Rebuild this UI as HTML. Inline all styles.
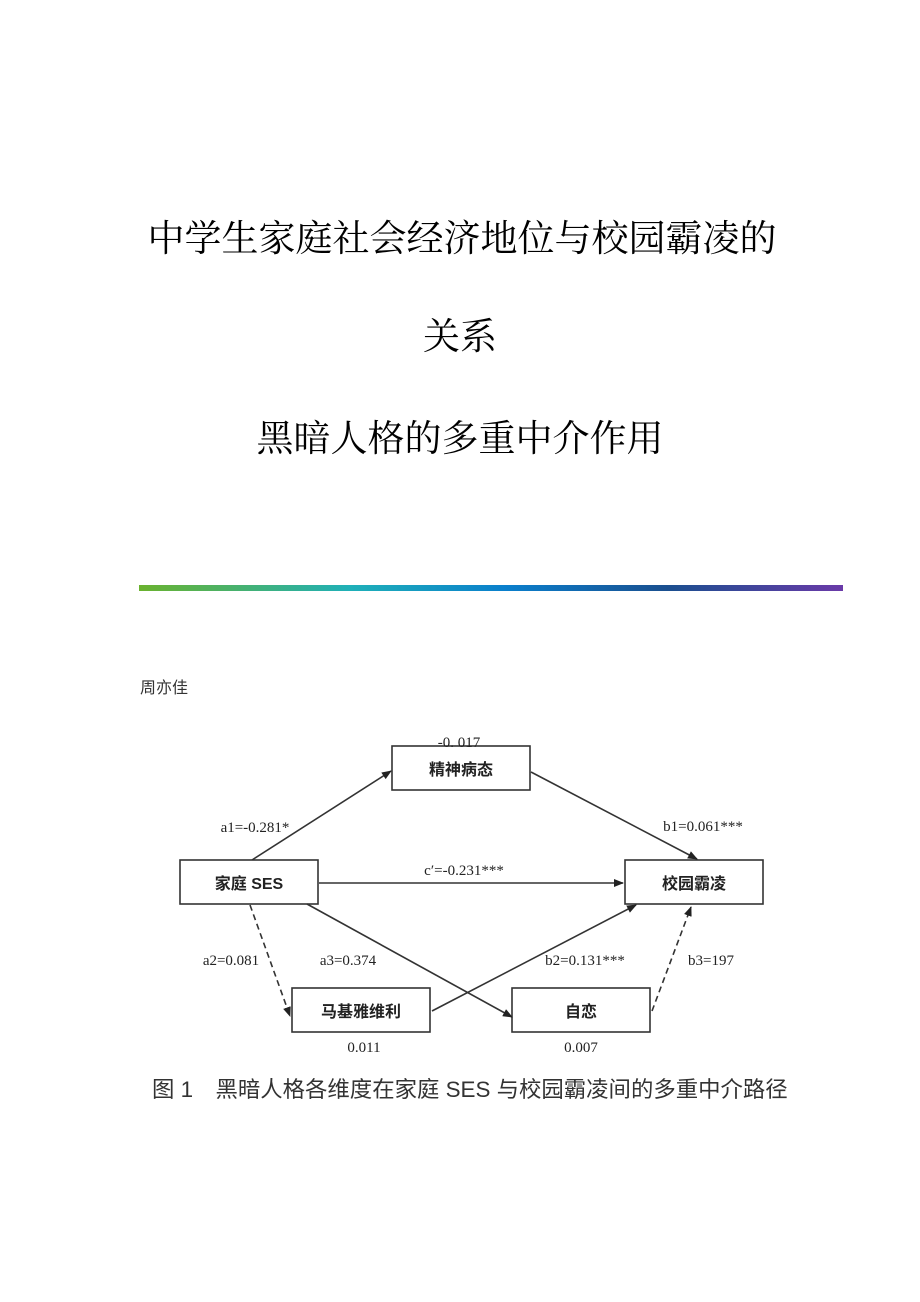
<!DOCTYPE html>
<html><head><meta charset="utf-8"><style>
html,body{margin:0;padding:0;background:#fff;width:920px;height:1302px;overflow:hidden;position:relative}
.t{position:absolute;left:0;width:920px;text-align:center;font-family:"Liberation Serif","Noto Serif CJK SC",serif;font-size:37px;color:#000;line-height:44px}
</style></head><body>
<div class="t" style="top:218px;left:2px">中学生家庭社会经济地位与校园霸凌的</div>
<div class="t" style="top:316px">关系</div>
<div class="t" style="top:418px">黑暗人格的多重中介作用</div>
<div style="position:absolute;left:139px;top:585px;width:704px;height:6px;background:linear-gradient(90deg,#6ab22e 0%,#1fb0b8 30%,#0a7fcc 52%,#1a4f8f 75%,#6a3aa8 100%)"></div>
<div style="position:absolute;left:140px;top:674px;font-family:'Liberation Sans','Noto Sans CJK SC',sans-serif;font-size:16px;color:#333">周亦佳</div>
<svg width="920" height="1302" style="position:absolute;left:0;top:0" font-family="Liberation Serif, Noto Sans CJK SC, serif">
<defs><marker id="a" markerWidth="10" markerHeight="8" refX="9" refY="4" orient="auto" markerUnits="userSpaceOnUse"><path d="M0,0L10,4L0,8z" fill="#222"/></marker></defs>
<g fill="none" stroke="#333" stroke-width="1.6">
<rect x="392" y="746" width="138" height="44"/>
<rect x="180" y="860" width="138" height="44"/>
<rect x="625" y="860" width="138" height="44"/>
<rect x="292" y="988" width="138" height="44"/>
<rect x="512" y="988" width="138" height="44"/>
<line x1="252" y1="860" x2="391" y2="771" marker-end="url(#a)"/>
<line x1="531" y1="772" x2="697" y2="859" marker-end="url(#a)"/>
<line x1="319" y1="883" x2="623" y2="883" marker-end="url(#a)"/>
<line x1="307" y1="904" x2="512" y2="1017" marker-end="url(#a)"/>
<line x1="432" y1="1011" x2="636" y2="905" marker-end="url(#a)"/>
<line x1="250" y1="905" x2="290" y2="1016" stroke-dasharray="6,4" marker-end="url(#a)"/>
<line x1="652" y1="1011" x2="691" y2="907" stroke-dasharray="6,4" marker-end="url(#a)"/>
</g>
<g font-size="16" fill="#222" font-family="Liberation Sans, Noto Sans CJK SC, sans-serif" text-anchor="middle" font-weight="bold">
<text x="461" y="775">精神病态</text>
<text x="249" y="889">家庭 SES</text>
<text x="694" y="889">校园霸凌</text>
<text x="361" y="1017">马基雅维利</text>
<text x="581" y="1017">自恋</text>
</g>
<g font-size="15" fill="#222" text-anchor="middle">
<text x="459" y="747">-0. 017</text>
<text x="255" y="832">a1=-0.281*</text>
<text x="703" y="831">b1=0.061***</text>
<text x="464" y="875">c′=-0.231***</text>
<text x="231" y="965">a2=0.081</text>
<text x="348" y="965">a3=0.374</text>
<text x="585" y="965">b2=0.131***</text>
<text x="711" y="965">b3=197</text>
<text x="364" y="1052">0.011</text>
<text x="581" y="1052">0.007</text>
</g>
<text x="152" y="1097" font-size="22.4" fill="#333" font-family="Liberation Sans, Noto Sans CJK SC, sans-serif">图 1　黑暗人格各维度在家庭 SES 与校园霸凌间的多重中介路径</text>
</svg>
</body></html>
